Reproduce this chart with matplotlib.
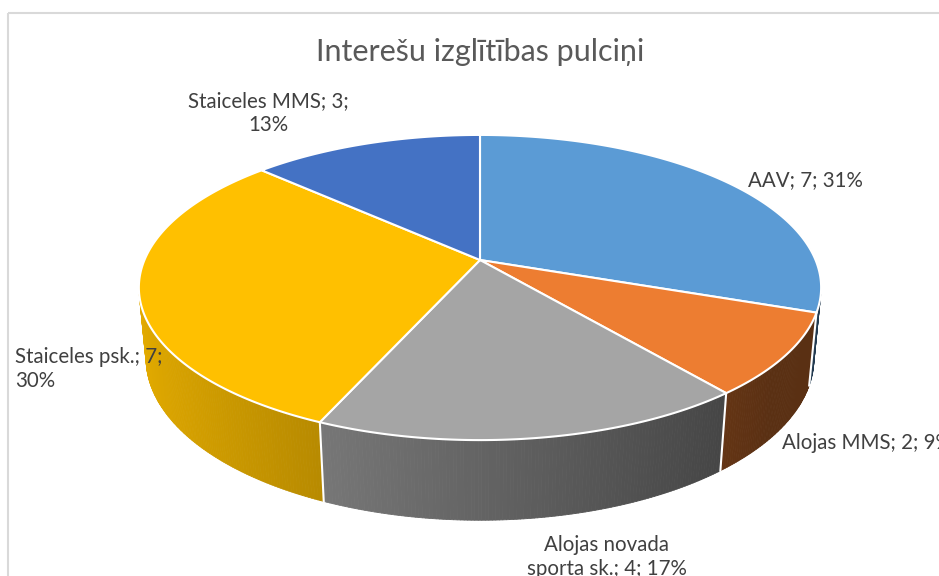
import numpy as np
import matplotlib.pyplot as plt
from matplotlib.patches import Polygon, Rectangle
from matplotlib.collections import PolyCollection
from matplotlib.colors import to_rgb

# dati
title = "Interešu izglītības pulciņi"
names = ["AAV", "Alojas MMS", "Alojas novada sporta sk.", "Staiceles psk.", "Staiceles MMS"]
counts = [7, 2, 4, 7, 3]
pct_labels = ["31%", "9%", "17%", "30%", "13%"]
colors = ["#5B9BD5", "#ED7D31", "#A5A5A5", "#FFC000", "#4472C4"]

# izkārtojums (pikseļos)
label_pos = [(805, 180), (782, 443), (607, 557), (15, 369), (268, 113)]
label_ha = ["center", "left", "center", "left", "center"]
label_wrap = ["", "", "Alojas novada\nsporta sk.; 4; 17%", "Staiceles psk.; 7;\n30%", "Staiceles MMS; 3;\n13%"]

PHI = np.radians(26.1)
DIST = 4.98
FOC = 1671
H = 0.236
CX, CY = 480, 260

plt.rcParams["font.family"] = ["Lato", "DejaVu Sans"]


def proj(x, y, z):
    depth = DIST + y * np.cos(PHI) - z * np.sin(PHI)
    sx = CX + FOC * x / depth
    sy = CY - FOC * (y * np.sin(PHI) + z * np.cos(PHI)) / depth
    return sx, sy


def rim(theta, z):
    return proj(np.sin(theta), np.cos(theta), z)


def shade(x):
    # gaisma no kreisās puses
    return max(0.38, 0.604 - 0.29 * x)


fig = plt.figure(figsize=(9.39, 5.76), dpi=100)
ax = fig.add_axes([0, 0, 1, 1])
ax.set_xlim(0, 939)
ax.set_ylim(576, 0)
ax.axis("off")

ax.add_patch(Rectangle((8, 13), 1000, 1000, fill=False, edgecolor="#D9D9D9", lw=1.5))

total = sum(counts)
bounds = np.concatenate([[0], np.cumsum(counts)]) / total * 2 * np.pi

# redzamā sānu daļa
vis = np.arccos(-1 / (DIST * np.cos(PHI)))
vis_lo, vis_hi = vis, 2 * np.pi - vis

# sānu sienas
for i in range(len(counts)):
    a, b = max(bounds[i], vis_lo), min(bounds[i + 1], vis_hi)
    if b <= a:
        continue
    th = np.linspace(a, b, max(3, int(np.degrees(b - a) * 2)))
    base = np.array(to_rgb(colors[i]))
    quads, fcs = [], []
    for t0, t1 in zip(th[:-1], th[1:]):
        x0, y0 = rim(t0, 0)
        x1, y1 = rim(t1, 0)
        x2, y2 = rim(t1, -H)
        x3, y3 = rim(t0, -H)
        quads.append([(x0, y0), (x1, y1), (x2, y2), (x3, y3)])
        fcs.append(np.clip(base * shade(np.sin((t0 + t1) / 2)), 0, 1))
    ax.add_collection(PolyCollection(quads, facecolors=fcs, edgecolors=fcs, linewidths=0.6))

for t in bounds[1:-1]:
    if vis_lo < t < vis_hi:
        x0, y0 = rim(t, 0)
        x1, y1 = rim(t, -H)
        ax.plot([x0, x1], [y0, y1], color="white", lw=1.5)

# augšējās virsmas
cx0, cy0 = proj(0, 0, 0)
for i in range(len(counts)):
    th = np.linspace(bounds[i], bounds[i + 1], 200)
    xs, ys = rim(th, 0)
    pts = [(cx0, cy0)] + list(zip(xs, ys))
    ax.add_patch(Polygon(pts, closed=True, facecolor=colors[i], edgecolor="white", lw=1.5))

# etiķetes
for i in range(len(counts)):
    txt = label_wrap[i] or f"{names[i]}; {counts[i]}; {pct_labels[i]}"
    ax.text(label_pos[i][0], label_pos[i][1], txt, ha=label_ha[i], va="center",
            fontsize=14.8, color="#404040", linespacing=1.25, multialignment=label_ha[i])

ax.text(480, 52, title, ha="center", va="center", fontsize=22, color="#595959")

fig.savefig("out.png", dpi=100)
